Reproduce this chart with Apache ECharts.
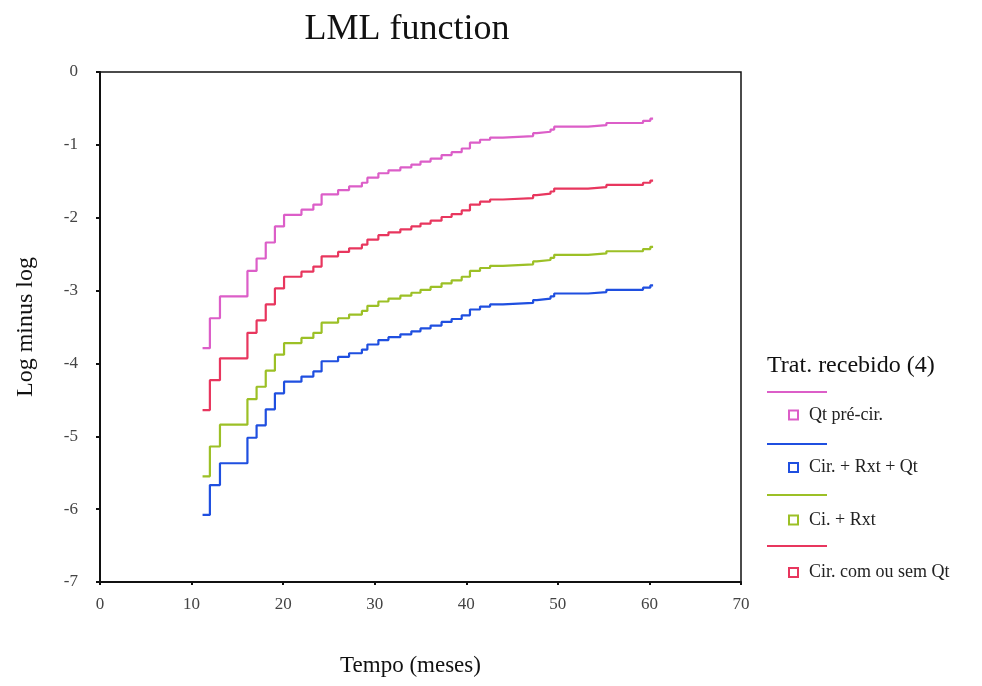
<!DOCTYPE html>
<html>
<head>
<meta charset="utf-8">
<script src="https://cdn.jsdelivr.net/npm/echarts@6/dist/echarts.min.js"></script>
<style>html,body{margin:0;padding:0;background:#fff}#c{width:982px;height:686px}</style>
</head>
<body>
<div id="c"></div>
<script>
// Step times (months) where the curves change level
const months = [11.2,12.0,13.1,16.1,17.1,18.1,19.1,20.1,22.0,23.3,24.2,26.0,27.2,28.6,29.2,30.4,31.5,32.8,34.0,35.0,36.1,37.3,38.4,39.5,40.4,41.5,42.6,44.0,47.3,47.7,49.2,49.6,53.3,55.3,59.3,60.1,60.4];
const qtPreCir = [-3.79,-3.38,-3.08,-2.73,-2.56,-2.34,-2.12,-1.96,-1.89,-1.82,-1.68,-1.62,-1.57,-1.52,-1.45,-1.39,-1.35,-1.31,-1.27,-1.23,-1.19,-1.14,-1.10,-1.05,-0.97,-0.93,-0.90,-0.88,-0.84,-0.82,-0.79,-0.75,-0.73,-0.70,-0.67,-0.64,-0.64];
const cirRxtQt = [-6.08,-5.67,-5.37,-5.02,-4.85,-4.63,-4.41,-4.25,-4.18,-4.11,-3.97,-3.91,-3.86,-3.81,-3.74,-3.68,-3.64,-3.60,-3.56,-3.52,-3.48,-3.43,-3.39,-3.34,-3.26,-3.22,-3.19,-3.17,-3.13,-3.11,-3.08,-3.04,-3.02,-2.99,-2.96,-2.93,-2.93];
const ciRxt = [-5.55,-5.14,-4.84,-4.49,-4.32,-4.10,-3.88,-3.72,-3.65,-3.58,-3.44,-3.38,-3.33,-3.28,-3.21,-3.15,-3.11,-3.07,-3.03,-2.99,-2.95,-2.90,-2.86,-2.81,-2.73,-2.69,-2.66,-2.64,-2.60,-2.58,-2.55,-2.51,-2.49,-2.46,-2.43,-2.40,-2.40];
const cirComSemQt = [-4.64,-4.23,-3.93,-3.58,-3.41,-3.19,-2.97,-2.81,-2.74,-2.67,-2.53,-2.47,-2.42,-2.37,-2.30,-2.24,-2.20,-2.16,-2.12,-2.08,-2.04,-1.99,-1.95,-1.90,-1.82,-1.78,-1.75,-1.73,-1.69,-1.67,-1.64,-1.60,-1.58,-1.55,-1.52,-1.49,-1.49];

const seriesNames = ['Qt pré-cir.', 'Cir. + Rxt + Qt', 'Ci. + Rxt', 'Cir. com ou sem Qt'];
const seriesValues = [qtPreCir, cirRxtQt, ciRxt, cirComSemQt];
const colors = ['#dc5ec8', '#1f4fe0', '#9cc026', '#e8365e'];
const xTicks = [0,10,20,30,40,50,60,70];
const yTicks = [0,-1,-2,-3,-4,-5,-6,-7];

const serif = '"Liberation Serif", "DejaVu Serif", serif';

const chart = echarts.init(document.getElementById('c'), null, {renderer: 'canvas'});

const series = seriesNames.map((name, i) => ({
  name: name,
  type: 'line',
  step: 'end',
  showSymbol: false,
  symbol: 'none',
  animation: false,
  lineStyle: {color: colors[i], width: 2.2},
  itemStyle: {color: '#fff', borderColor: colors[i], borderWidth: 2},
  data: months.map((m, k) => [m, seriesValues[i][k]])
}));

const legendLineYs = [392, 444, 495, 546];
const graphics = [
  {type: 'text', left: 767, top: 354, style: {text: 'Trat. recebido (4)', font: '24px ' + serif, fill: '#111'}}
];
colors.forEach((c, i) => {
  graphics.push({type: 'line', shape: {x1: 767, y1: legendLineYs[i], x2: 827, y2: legendLineYs[i]}, style: {stroke: c, lineWidth: 2}});
});

chart.setOption({
  animation: false,
  backgroundColor: '#fff',
  title: {
    text: 'LML function',
    left: 402, top: 7, textAlign: 'center',
    textStyle: {fontFamily: serif, fontSize: 36, fontWeight: 'normal', color: '#111'}
  },
  grid: {left: 100, top: 72, right: 241, bottom: 104, show: true, borderColor: '#111', borderWidth: 1.5, backgroundColor: 'transparent'},
  xAxis: {
    type: 'value', min: 0, max: 70, interval: 10,
    name: 'Tempo (meses)', nameLocation: 'middle', nameGap: 72,
    nameTextStyle: {fontFamily: serif, fontSize: 23, color: '#111', padding: [0, 20, 0, 0]},
    axisLine: {show: true, onZero: false, lineStyle: {color: '#111', width: 2}},
    axisTick: {show: true, length: 3, lineStyle: {color: '#111', width: 2}},
    axisLabel: {fontFamily: serif, fontSize: 17, color: '#444', margin: 14,
      formatter: v => xTicks.includes(v) ? String(v) : ''},
    splitLine: {show: false}
  },
  yAxis: {
    type: 'value', min: -7, max: 0, interval: 1,
    name: 'Log minus log', nameLocation: 'middle', nameGap: 62, nameRotate: 90,
    nameTextStyle: {fontFamily: serif, fontSize: 24, color: '#111'},
    axisLine: {show: true, onZero: false, lineStyle: {color: '#111', width: 2}},
    axisTick: {show: true, length: 4, lineStyle: {color: '#111', width: 2}},
    axisLabel: {fontFamily: serif, fontSize: 17, color: '#444', margin: 22,
      formatter: v => yTicks.includes(v) ? String(v) : ''},
    splitLine: {show: false}
  },
  legend: {
    data: seriesNames,
    orient: 'vertical',
    left: 783, top: 401,
    itemWidth: 9, itemHeight: 9,
    itemGap: 34.5,
    icon: 'rect',
    textStyle: {fontFamily: serif, fontSize: 18, color: '#222', lineHeight: 17, padding: [0, 0, 0, 6]},
    selectedMode: false
  },
  graphic: graphics,
  series: series
});
</script>
</body>
</html>
